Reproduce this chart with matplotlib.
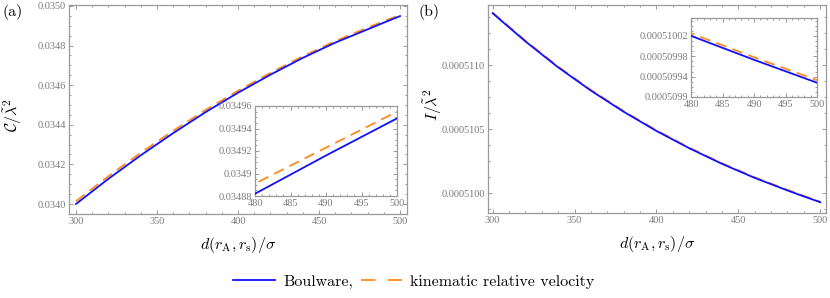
import matplotlib
matplotlib.use("Agg")
import matplotlib.pyplot as plt
from matplotlib.ticker import MultipleLocator, FixedLocator, FuncFormatter

plt.rcParams["mathtext.fontset"] = "cm"

# --- data ---
d_vals = [300, 320, 340, 360, 380, 400, 420, 440, 460, 480, 490, 500]

# (a) C / lambda^2
c_boulware = [0.034000, 0.034127, 0.034246, 0.034358, 0.034464, 0.034562,
              0.034653, 0.034738, 0.034815, 0.034882, 0.034916, 0.034949]
c_kinematic = [0.034014, 0.034140, 0.034259, 0.034370, 0.034475, 0.034572,
               0.034662, 0.034746, 0.034823, 0.034891, 0.034923, 0.034955]

# (b) I / lambda^2
i_boulware = [0.000511405, 0.000511185, 0.000510982, 0.000510800, 0.000510635,
              0.000510485, 0.000510350, 0.000510228, 0.000510118, 0.000510020,
              0.000509973, 0.000509928]
i_kinematic = [0.000511411, 0.000511191, 0.000510988, 0.000510806, 0.000510641,
               0.000510490, 0.000510355, 0.000510233, 0.000510123, 0.000510025,
               0.000509978, 0.000509933]

# inset (b) tick values
inset_b_ticks = [0.00050990, 0.00050994, 0.00050998, 0.00051002]

BLUE = "#1010ff"
ORANGE = "#ff8c1a"
FRAME = "#9a9a9a"
TICKTXT = "#7a7a7a"
W, H = 830, 298


def fig_rect(left, top, right, bottom):
    return [left / W, (H - bottom) / H, (right - left) / W, (bottom - top) / H]


def fmt(decimals, strip):
    def f(v, pos):
        s = f"{v:.{decimals}f}"
        if strip:
            s = s.rstrip("0")
        return s
    return FuncFormatter(f)


def style_axes(ax, xmaj, xmin, ymaj, ymin, yfmt):
    for sp in ax.spines.values():
        sp.set_color(FRAME)
        sp.set_linewidth(0.9)
    ax.xaxis.set_major_locator(MultipleLocator(xmaj))
    ax.xaxis.set_minor_locator(MultipleLocator(xmin))
    ax.yaxis.set_major_locator(ymaj)
    ax.yaxis.set_minor_locator(ymin)
    ax.yaxis.set_major_formatter(yfmt)
    ax.tick_params(which="both", direction="in", top=True, right=True,
                   color=FRAME, labelcolor=TICKTXT, width=0.7)
    ax.tick_params(which="major", length=3.2, pad=2)
    ax.tick_params(which="minor", length=1.7)
    for lab in ax.get_xticklabels() + ax.get_yticklabels():
        lab.set_fontfamily("Liberation Serif")
        lab.set_fontsize(7.4)


def draw(ax, yb, yk):
    ax.plot(d_vals, yb, color=BLUE, lw=1.3, zorder=3)
    ax.plot(d_vals, yk, color=ORANGE, lw=1.3, dashes=(6, 3.5), zorder=2)


fig = plt.figure(figsize=(W / 100, H / 100), dpi=100)

# ---- panel (a) ----
ax1 = fig.add_axes(fig_rect(69, 5, 407, 214))
draw(ax1, c_boulware, c_kinematic)
ax1.set_xlim(295.7, 504.3)
ax1.set_ylim(0.0339495, 0.035005)
style_axes(ax1, 50, 10, MultipleLocator(0.0002), MultipleLocator(0.00005), fmt(4, False))
ax1.set_xlabel(r"$d(r_\mathrm{A},r_\mathrm{s})/\sigma$", fontsize=11.5, va="center")
ax1.xaxis.set_label_coords(0.5, -0.15)
ax1.set_ylabel(r"$\mathcal{C}/\tilde{\lambda}^2$", fontsize=11.5, va="center")
ax1.yaxis.set_label_coords(-0.166, 0.47)

in1 = fig.add_axes(fig_rect(255, 106, 397, 196))
draw(in1, c_boulware, c_kinematic)
in1.set_xlim(480, 500)
in1.set_ylim(0.03488, 0.03496)
style_axes(in1, 5, 1, MultipleLocator(0.00002), MultipleLocator(0.000005), fmt(5, True))

# ---- panel (b) ----
ax2 = fig.add_axes(fig_rect(488, 5, 826, 213))
draw(ax2, i_boulware, i_kinematic)
ax2.set_xlim(297.2, 503.5)
ax2.set_ylim(0.00050984375, 0.000511469)
style_axes(ax2, 50, 10, MultipleLocator(0.0000005), MultipleLocator(0.000000125), fmt(7, False))
ax2.set_xlabel(r"$d(r_\mathrm{A},r_\mathrm{s})/\sigma$", fontsize=11.5, va="center")
ax2.xaxis.set_label_coords(0.5, -0.15)
ax2.set_ylabel(r"$I/\tilde{\lambda}^2$", fontsize=11.5, va="center")
ax2.yaxis.set_label_coords(-0.163, 0.52)

in2 = fig.add_axes(fig_rect(691, 18, 817, 97))
draw(in2, i_boulware, i_kinematic)
in2.set_xlim(480, 500)
in2.set_ylim(0.0005099, 0.000510055)
minor_b = [inset_b_ticks[0] + k * 0.00000001 for k in range(17)]
style_axes(in2, 5, 1, FixedLocator(inset_b_ticks), FixedLocator(minor_b), fmt(8, True))

# panel tags
fig.text(3 / W, 1 - 12 / H, "(a)", family="cmr10", fontsize=11.5, va="center")
fig.text(418 / W, 1 - 12 / H, "(b)", family="cmr10", fontsize=11.5, va="center")

# legend
h1, = ax1.plot([], [], color=BLUE, lw=1.3)
h2, = ax1.plot([], [], color=ORANGE, lw=1.3, dashes=(8, 7))
leg = fig.legend([h1, h2], ["Boulware,", "kinematic relative velocity"],
                 loc="center", bbox_to_anchor=(414 / W, 1 - 282 / H), ncol=2,
                 frameon=False, handlelength=2.6, handletextpad=0.5,
                 columnspacing=0.5, prop={"family": "cmr10", "size": 11.5})

fig.savefig("out.png", dpi=100)
